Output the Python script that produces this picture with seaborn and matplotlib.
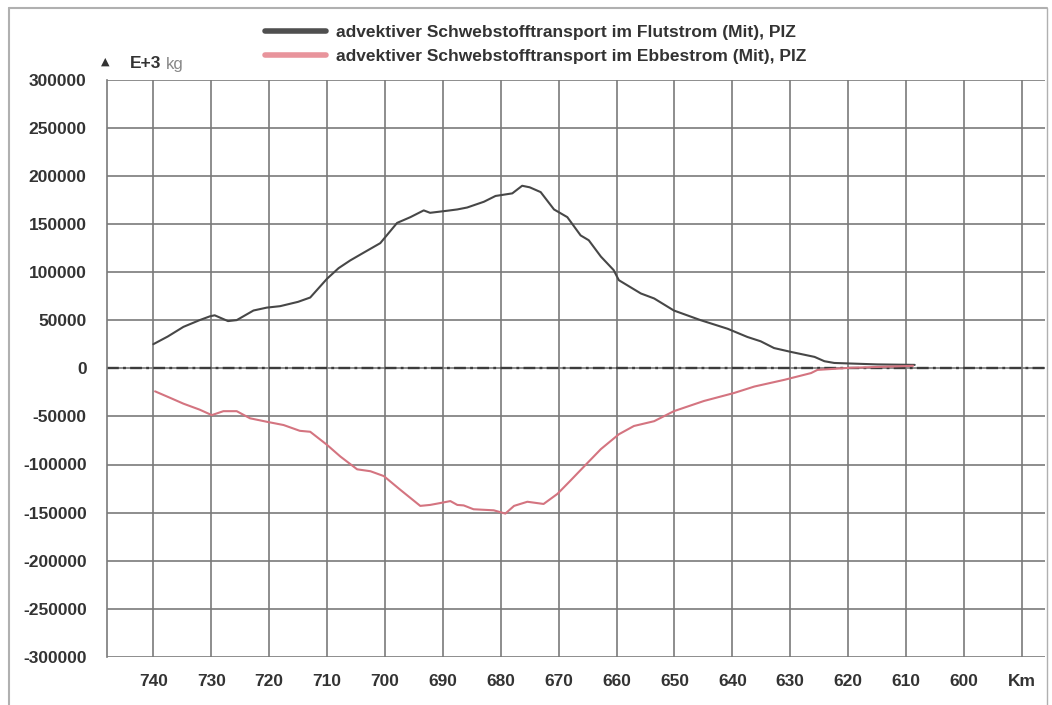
import matplotlib
matplotlib.use("Agg")
import matplotlib.pyplot as plt
import seaborn as sns
import pandas as pd
from matplotlib.lines import Line2D

# Flood-current advective suspended sediment transport (E+3 kg) along the river km
flut_km = [740, 737.5, 734.8, 732, 730.2, 729.4, 727.1, 725.6, 722.7, 720.4, 718.1, 715,
           712.9, 710, 708, 706, 703.7, 700.8, 697.9, 695.6, 693.3, 692.2, 689.3, 687.5,
           685.8, 682.9, 680.9, 678, 676.3, 675, 673.1, 670.8, 668.5, 666.2, 664.8, 662.7,
           660.5, 659.6, 655.8, 653.5, 650.1, 645.5, 640.8, 637.4, 635.1, 632.8, 629.9,
           625.8, 624.1, 622.4, 619.5, 615, 608.5]
flut_val = [25000, 33000, 43000, 50000, 54000, 55000, 49000, 50000, 60000, 63000, 64500,
            69000, 73500, 93000, 104000, 112000, 120000, 130000, 151000, 157000, 164000,
            161500, 163600, 165000, 167000, 173000, 179000, 181700, 189600, 188000, 183000,
            165000, 157000, 138000, 133000, 116000, 102000, 91500, 77700, 72500, 60000,
            50000, 41000, 32500, 28000, 21000, 17000, 11800, 7300, 5500, 4900, 4000, 3500]

# Ebb-current advective suspended sediment transport (E+3 kg)
ebbe_km = [739.7, 737, 734.8, 732, 729.9, 727.9, 725.6, 723.3, 720.4, 717.5, 714.7, 712.9,
           710, 707.7, 704.8, 702.5, 700.2, 697.4, 693.9, 692.2, 690.4, 688.7, 687.5, 686.4,
           684.7, 681.2, 679.2, 677.7, 675.4, 672.6, 670.2, 668, 665.6, 662.7, 659.6, 657,
           653.5, 650.1, 644.9, 639.7, 636.2, 631, 626.4, 625.3, 619.5, 614, 608.8]
ebbe_val = [-24000, -31000, -36800, -43000, -48700, -44600, -44600, -52000, -55600, -59000,
            -65000, -66000, -79600, -91700, -105000, -107000, -112000, -126000, -143000,
            -142000, -140000, -138000, -142000, -142500, -146500, -147600, -151000, -143000,
            -138700, -141000, -130500, -117000, -102000, -84000, -68600, -60000, -55000,
            -44600, -34000, -25700, -19000, -12000, -5000, -1700, 500, 1500, 2500]

series_names = ["advektiver Schwebstofftransport im Flutstrom (Mit), PIZ",
                "advektiver Schwebstofftransport im Ebbestrom (Mit), PIZ"]
x_ticks = [740, 730, 720, 710, 700, 690, 680, 670, 660, 650, 640, 630, 620, 610, 600, 590]
x_tick_labels = ["740", "730", "720", "710", "700", "690", "680", "670", "660", "650",
                 "640", "630", "620", "610", "600", "Km"]
y_ticks = [300000, 250000, 200000, 150000, 100000, 50000, 0, -50000, -100000, -150000,
           -200000, -250000, -300000]

sns.set_style("white")
plt.rcParams["font.family"] = ["Liberation Sans", "DejaVu Sans"]

df = pd.concat([
    pd.DataFrame({"km": flut_km, "wert": flut_val, "serie": series_names[0]}),
    pd.DataFrame({"km": ebbe_km, "wert": ebbe_val, "serie": series_names[1]}),
])

dark = "#474747"
pink = "#d47480"
grid_c = "#7a7a7a"
text_c = "#333333"

fig = plt.figure(figsize=(10.52, 7.05), dpi=100)
ax = fig.add_axes([107 / 1052, 1 - 657 / 705, (1045 - 107) / 1052, (657 - 79.5) / 705])

ax.axhline(0, color="#3c3c3c", lw=1.7, ls=(0, (5, 1.8, 1.2, 1.8)), zorder=2)

sns.lineplot(data=df, x="km", y="wert", hue="serie", palette=[dark, pink],
             sort=False, estimator=None, lw=1.5, ax=ax, legend=False, zorder=3)

ax.set_xlim(748, 586)
ax.set_ylim(-300000, 300000)
ax.set_xticks(x_ticks)
ax.set_xticklabels(x_tick_labels)
ax.set_yticks(y_ticks)
ax.set_yticklabels([str(v) for v in y_ticks])
ax.set_xlabel("")
ax.set_ylabel("")
ax.grid(True, color=grid_c, lw=1.2, zorder=1)
ax.tick_params(axis="both", direction="out", length=8.6, width=1.2, color=grid_c,
               labelsize=12.5, labelcolor=text_c)
ax.tick_params(axis="y", pad=6)
ax.tick_params(axis="x", pad=4)
for lbl in ax.get_xticklabels() + ax.get_yticklabels():
    lbl.set_fontweight("bold")
for side in ["top", "bottom", "right"]:
    ax.spines[side].set_visible(False)
ax.spines["left"].set_color(grid_c)
ax.spines["left"].set_linewidth(1.2)

handles = [Line2D([], [], color="#4f4f4f", lw=4), Line2D([], [], color="#e8949c", lw=4)]
leg = fig.legend(handles, series_names, loc="upper left",
                 bbox_to_anchor=(265 / 1052, 1 - 25 / 705), frameon=False,
                 handlelength=3.5, handletextpad=0.6, labelspacing=0.5,
                 borderpad=0, borderaxespad=0,
                 prop={"size": 12.5, "weight": "bold"})
for t in leg.get_texts():
    t.set_color(text_c)

# unit marker above the value axis
fig.text(105 / 1052, 1 - 62 / 705, "▲", fontsize=8, color=text_c, ha="center",
         va="center", family="DejaVu Sans")
fig.text(130 / 1052, 1 - 64 / 705, "E+3", fontsize=12.5, fontweight="bold", color=text_c,
         ha="left", va="center")
fig.text(166 / 1052, 1 - 64 / 705, "kg", fontsize=12, color="#888888", ha="left",
         va="center")

# outer frame of the drawing
frame_c = "#b0b0b0"
fig.add_artist(Line2D([9 / 1052, 9 / 1052], [0, 1 - 8 / 705], color=frame_c, lw=1.5,
                      transform=fig.transFigure))
fig.add_artist(Line2D([9 / 1052, 1047 / 1052], [1 - 8 / 705, 1 - 8 / 705], color=frame_c,
                      lw=1.5, transform=fig.transFigure))
fig.add_artist(Line2D([1047 / 1052, 1047 / 1052], [0, 1 - 8 / 705], color=frame_c, lw=1.0,
                      transform=fig.transFigure))

fig.savefig("out.png", dpi=100)
